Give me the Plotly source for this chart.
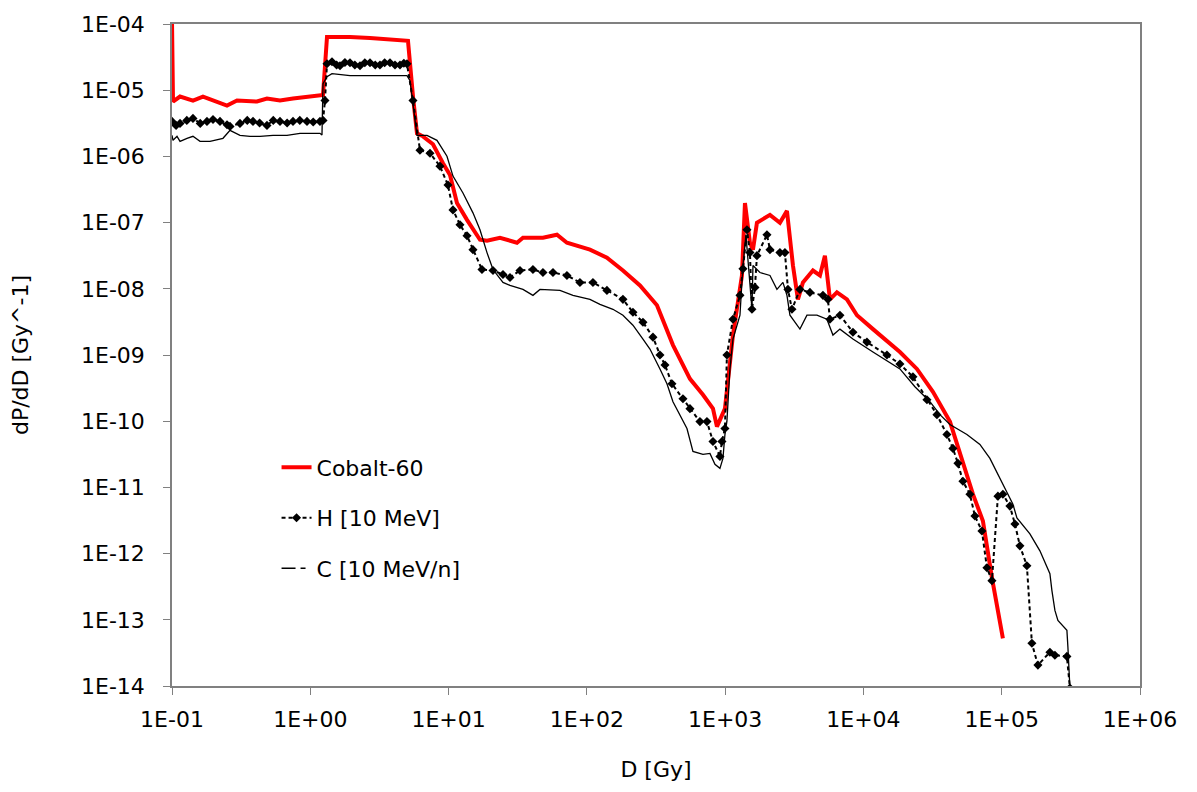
import plotly.graph_objects as go

# ---------------- data ----------------
co_dose = [0.1, 0.1017, 0.1143, 0.1284, 0.1418, 0.1675, 0.1979, 0.2498, 0.2951, 0.3485,
           0.4118, 0.4862, 0.6038, 0.7499, 0.9466, 1.175, 1.236, 1.321, 1.937, 2.703,
           3.770, 5.088, 5.529, 5.909, 6.529, 7.715, 9.110, 10.24, 11.50, 13.59,
           16.87, 18.96, 23.53, 31.23, 34.52, 48.14, 60.78, 71.79, 105.3, 139.7,
           182.4, 242.1, 321.3, 419.4, 556.6, 691.2, 816.5, 872.4, 996.7, 1139,
           1323, 1391, 1511, 1589, 1698, 2109, 2490, 2799, 3093, 3360,
           3652, 4314, 4848, 5267, 5726, 6433, 7600, 8974, 11720, 18360,
           24370, 31810, 42220, 52410, 61920, 73130, 78170, 84960, 102000]
co_val = [1.1e-4, 6.74e-6, 8.02e-6, 7.48e-6, 6.98e-6, 8.02e-6, 6.98e-6, 5.87e-6, 6.98e-6, 6.98e-6,
          6.74e-6, 7.48e-6, 6.98e-6, 7.48e-6, 8.02e-6, 8.30e-6, 8.50e-6, 6.38e-5, 6.38e-5, 6.16e-5,
          5.90e-5, 5.56e-5, 8.02e-6, 2.23e-6, 2.01e-6, 1.525e-6, 7.90e-7, 5.22e-7, 1.98e-7, 1.10e-7,
          5.51e-8, 5.33e-8, 5.91e-8, 4.97e-8, 5.91e-8, 5.91e-8, 6.56e-8, 4.97e-8, 3.90e-8, 2.96e-8,
          1.89e-8, 1.125e-8, 5.63e-9, 1.413e-9, 4.36e-10, 2.51e-10, 1.546e-10, 8.30e-11, 1.546e-10, 2.0e-9,
          1.589e-8, 1.98e-7, 4.97e-8, 3.90e-8, 9.93e-8, 1.309e-7, 9.93e-8, 1.503e-7, 2.245e-8, 6.93e-9,
          1.248e-8, 1.89e-8, 1.589e-8, 3.17e-8, 6.93e-9, 8.83e-9, 6.93e-9, 3.99e-9, 2.46e-9, 1.109e-9,
          6.16e-10, 2.78e-10, 9.86e-11, 2.23e-11, 7.90e-12, 3.11e-12, 1.222e-12, 4.33e-13, 5.25e-14]

h_dose = [0.1, 0.107, 0.1143, 0.128, 0.1418, 0.16, 0.179, 0.198, 0.2224, 0.25,
          0.2627, 0.3101, 0.35, 0.3851, 0.43, 0.4862, 0.54, 0.6038, 0.68, 0.7499,
          0.84, 0.9466, 1.05, 1.175, 1.236, 1.277, 1.321, 1.435, 1.55, 1.64,
          1.78, 1.937, 2.1, 2.288, 2.48, 2.703, 2.95, 3.191, 3.45, 3.770,
          4.1, 4.454, 4.75, 5.004, 5.529, 6.211, 7.339, 8.666, 9.901, 10.76,
          12.09, 13.59, 15.01, 17.44, 20.95, 24.74, 27.80, 32.84, 40.76, 48.14,
          56.88, 71.79, 89.15, 110.7, 139.7, 182.4, 215.4, 254.5, 300.6, 337.8,
          367.2, 412.5, 495.4, 556.6, 657.5, 738.8, 816.5, 917.0, 948.0, 996.7,
          1030, 1139, 1280, 1345, 1438, 1511, 1563, 1642, 1698, 2006,
          2109, 2490, 2706, 2846, 3041, 3474, 4104, 5096, 5537, 5726,
          6763, 8397, 10600, 14790, 18360, 22800, 28790, 34000, 40160, 44380,
          48240, 52410, 58890, 64000, 71920, 78170, 84960, 93870, 102000, 114600,
          124600, 135400, 152100, 165300, 182700, 223100, 242500, 296100, 311300]
h_val = [3.38e-6, 2.94e-6, 3.15e-6, 3.50e-6, 3.75e-6, 3.15e-6, 3.38e-6, 3.60e-6, 3.38e-6, 3.00e-6,
         2.84e-6, 3.15e-6, 3.50e-6, 3.38e-6, 3.20e-6, 2.94e-6, 3.50e-6, 3.38e-6, 3.20e-6, 3.38e-6,
         3.50e-6, 3.38e-6, 3.30e-6, 3.38e-6, 3.50e-6, 6.98e-6, 2.51e-5, 2.69e-5, 2.40e-5, 2.34e-5,
         2.62e-5, 2.60e-5, 2.40e-5, 2.34e-5, 2.60e-5, 2.60e-5, 2.40e-5, 2.40e-5, 2.60e-5, 2.60e-5,
         2.40e-5, 2.40e-5, 2.55e-5, 2.50e-5, 6.98e-6, 1.24e-6, 1.117e-6, 7.13e-7, 3.69e-7, 1.556e-7,
         9.27e-8, 6.33e-8, 3.90e-8, 1.955e-8, 1.89e-8, 1.645e-8, 1.483e-8, 1.89e-8, 1.955e-8, 1.763e-8,
         1.763e-8, 1.589e-8, 1.248e-8, 1.248e-8, 9.46e-9, 6.93e-9, 4.42e-9, 3.13e-9, 1.86e-9, 1.0e-9,
         7.08e-10, 3.67e-10, 2.18e-10, 1.546e-10, 9.86e-11, 9.86e-11, 4.94e-11, 2.94e-11, 4.94e-11, 7.74e-11,
         1.0e-9, 3.47e-9, 7.96e-9, 2.0e-8, 7.79e-8, 3.52e-8, 4.90e-9, 1.049e-8, 3.17e-8, 6.56e-8,
         3.90e-8, 3.52e-8, 3.52e-8, 9.79e-9, 4.90e-9, 9.79e-9, 8.83e-9, 7.96e-9, 6.93e-9, 3.47e-9,
         3.99e-9, 2.21e-9, 1.567e-9, 1.0e-9, 7.3e-10, 4.68e-10, 2.11e-10, 1.256e-10, 6.29e-11, 3.88e-11,
         2.31e-11, 1.238e-11, 7.90e-12, 3.69e-12, 2.20e-12, 6.12e-13, 3.90e-13, 7.38e-12, 7.90e-12, 5.22e-12,
         2.80e-12, 1.309e-12, 6.56e-13, 4.42e-14, 2.07e-14, 3.24e-14, 2.92e-14, 2.8e-14, 9.3e-15]

c_dose = [0.1, 0.1017, 0.1087, 0.1143, 0.1284, 0.1418, 0.1594, 0.1883, 0.2337, 0.2627,
          0.3101, 0.3664, 0.4328, 0.5374, 0.6784, 0.8426, 1.175, 1.215, 1.236, 1.321,
          1.435, 1.937, 2.703, 3.770, 5.004, 5.26, 5.909, 6.529, 6.981, 8.244,
          9.737, 10.76, 12.71, 15.01, 16.87, 18.96, 20.95, 24.74, 27.80, 34.52,
          40.76, 45.80, 63.90, 79.33, 105.3, 124.4, 154.4, 182.4, 215.4, 254.5,
          285.9, 337.8, 379.5, 419.4, 471.2, 529.5, 585.1, 691.2, 776.7, 843.8,
          917.0, 964.0, 996.7, 1030, 1083, 1139, 1280, 1345, 1414, 1511,
          1563, 1589, 1785, 2109, 2369, 2618, 2799, 2942, 3305, 3474,
          3904, 4611, 5446, 6019, 6763, 8397, 11720, 18360, 23570, 30260,
          35740, 42220, 56020, 69560, 82170, 97050, 109000, 120500, 128800, 159900,
          188900, 223100, 230700, 242500, 254900, 296100, 301100, 311300]
c_val = [2.08e-6, 1.75e-6, 2.01e-6, 1.69e-6, 1.877e-6, 2.01e-6, 1.69e-6, 1.69e-6, 1.877e-6, 2.47e-6,
         2.08e-6, 2.01e-6, 2.01e-6, 2.08e-6, 2.08e-6, 2.23e-6, 2.23e-6, 2.10e-6, 1.257e-5, 1.60e-5,
         1.775e-5, 1.656e-5, 1.656e-5, 1.656e-5, 1.656e-5, 1.393e-5, 2.08e-6, 2.08e-6, 2.08e-6, 1.75e-6,
         1.007e-6, 5.04e-7, 2.80e-7, 1.403e-7, 7.79e-8, 3.52e-8, 1.955e-8, 1.248e-8, 1.125e-8, 9.79e-9,
         7.96e-9, 9.79e-9, 9.46e-9, 7.96e-9, 6.93e-9, 5.83e-9, 4.90e-9, 3.99e-9, 2.82e-9, 1.74e-9,
         1.231e-9, 6.16e-10, 3.67e-10, 1.97e-10, 1.256e-10, 7.74e-11, 3.50e-11, 3.15e-11, 3.26e-11, 2.23e-11,
         1.94e-11, 2.74e-11, 6.29e-11, 1.0e-10, 6.16e-10, 1.74e-9, 3.99e-9, 2.245e-8, 6.56e-8, 1.25e-8,
         4.90e-9, 2.245e-8, 1.763e-8, 1.589e-8, 9.79e-9, 1.248e-8, 7.96e-9, 3.99e-9, 2.82e-9, 2.46e-9,
         3.99e-9, 3.99e-9, 3.47e-9, 2.0e-9, 2.46e-9, 1.74e-9, 1.109e-9, 6.16e-10, 3.31e-10, 1.97e-10,
         1.256e-10, 8.89e-11, 6.29e-11, 4.45e-11, 2.74e-11, 1.374e-11, 8.3e-12, 5.59e-12, 3.45e-12, 1.983e-12,
         1.101e-12, 4.97e-13, 2.76e-13, 1.384e-13, 9.79e-14, 6.93e-14, 3.85e-14, 9.3e-15]

x_tickvals = [1e-1, 1e0, 1e1, 1e2, 1e3, 1e4, 1e5, 1e6]
x_ticktext = ["1E-01", "1E+00", "1E+01", "1E+02", "1E+03", "1E+04", "1E+05", "1E+06"]
y_tickvals = [1e-4, 1e-5, 1e-6, 1e-7, 1e-8, 1e-9, 1e-10, 1e-11, 1e-12, 1e-13, 1e-14]
y_ticktext = ["1E-04", "1E-05", "1E-06", "1E-07", "1E-08", "1E-09", "1E-10",
              "1E-11", "1E-12", "1E-13", "1E-14"]

FONT = "DejaVu Sans"
FS = 22
AX = "#808080"

fig = go.Figure()
fig.add_trace(go.Scatter(
    x=co_dose, y=co_val, mode="lines", name="Cobalt-60",
    line=dict(color="#FF0000", width=4), legendgroup="a"))
fig.add_trace(go.Scatter(
    x=h_dose, y=h_val, mode="lines+markers", name="H [10 MeV]",
    line=dict(color="black", width=2, dash="4px,3px"),
    marker=dict(symbol="diamond", size=7, color="black"), legendgroup="b"))
fig.add_trace(go.Scatter(
    x=c_dose, y=c_val, mode="lines", name="C [10 MeV/n]",
    line=dict(color="black", width=1.3), showlegend=False, legendgroup="c"))
# legend-only entry showing the series' dash style
fig.add_trace(go.Scatter(
    x=[None], y=[None], mode="lines", name="C [10 MeV/n]",
    line=dict(color="black", width=1.5, dash="14px,5px,5px,6px"), legendgroup="c"))

fig.update_layout(
    width=1197, height=792,
    margin=dict(l=172, r=57, t=20, b=106),
    paper_bgcolor="white", plot_bgcolor="white",
    font=dict(family=FONT, size=FS, color="black"),
    showlegend=True,
    legend=dict(x=0.108, y=0.362, xanchor="left", yanchor="top",
                bgcolor="rgba(0,0,0,0)", font=dict(family=FONT, size=FS),
                traceorder="grouped", tracegroupgap=19),
    xaxis=dict(type="log", range=[-1, 6], tickvals=x_tickvals, ticktext=x_ticktext,
               showgrid=False, zeroline=False, showline=True, linecolor=AX, linewidth=1.5,
               mirror=True, ticks="outside", ticklen=7, tickcolor=AX,
               ticklabelstandoff=6,
               title=dict(text="D [Gy]", font=dict(family=FONT, size=FS), standoff=30)),
    yaxis=dict(type="log", range=[-14, -4], tickvals=y_tickvals, ticktext=y_ticktext,
               showgrid=False, zeroline=False, showline=True, linecolor=AX, linewidth=1.5,
               mirror=True, ticks="outside", ticklen=7, tickcolor=AX,
               ticklabelstandoff=14,
               title=dict(text="dP/dD [Gy^-1]", font=dict(family=FONT, size=FS), standoff=46)),
)

fig.write_html("out.html")
